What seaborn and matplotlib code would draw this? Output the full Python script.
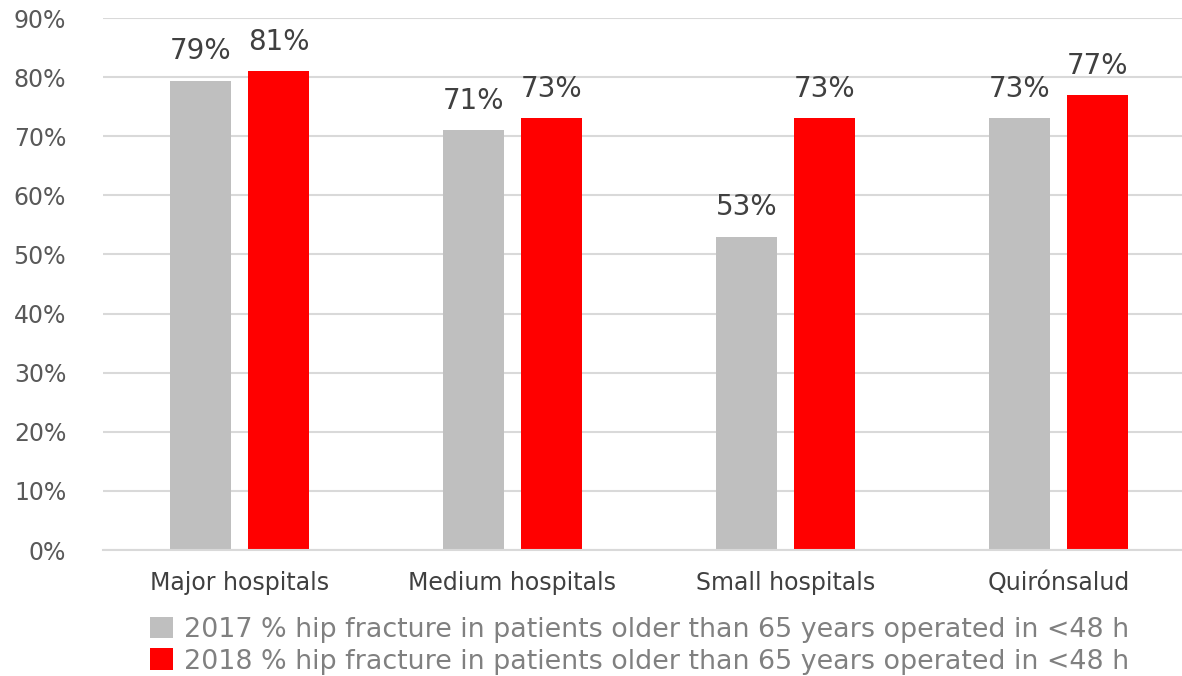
import numpy as np
import matplotlib
matplotlib.use("Agg")
import matplotlib.pyplot as plt
import pandas as pd
import seaborn as sns

categories = ["Major hospitals", "Medium hospitals", "Small hospitals", "Quirónsalud"]
vals_2017 = [79.4, 71, 53, 73]
vals_2018 = [81, 73, 73, 77]
series = ["2017 % hip fracture in patients older than 65 years operated in <48 h",
          "2018 % hip fracture in patients older than 65 years operated in <48 h"]
colors = ["#BFBFBF", "#FF0000"]

df = pd.DataFrame({
    "category": categories * 2,
    "value": vals_2017 + vals_2018,
    "series": [series[0]] * 4 + [series[1]] * 4,
})

sns.set_theme(style="white")
plt.rcParams['font.family'] = ['DejaVu Sans']

fig = plt.figure(figsize=(11.82, 6.76), dpi=100)
ax = fig.add_axes([103 / 1182, 1 - 550 / 676, 4 * 273 / 1182, (550 - 18) / 676])

sns.barplot(data=df, x="category", y="value", hue="series", palette=colors,
            width=0.571, gap=0.218, ax=ax, legend=True, saturation=1, linewidth=0)

# value labels above bars
for cont in ax.containers:
    ax.bar_label(cont, labels=[f"{v:.0f}%" for v in cont.datavalues],
                 padding=11, fontsize=20, color="#404040")

ax.set_ylim(0, 90)
ax.set_xlim(-0.5, 3.5)
ax.set_yticks(np.arange(0, 91, 10))
ax.set_yticklabels([f"{t}%" for t in range(0, 91, 10)], fontsize=17, color="#595959")
ax.tick_params(axis="x", labelsize=17, labelcolor="#404040", length=0, pad=15)
ax.tick_params(axis="y", length=0, pad=26.5)
ax.yaxis.grid(True, color="#D9D9D9", linewidth=1.5)
ax.set_axisbelow(True)
ax.set_xlabel("")
ax.set_ylabel("")
for s in ["top", "right", "left"]:
    ax.spines[s].set_visible(False)
ax.spines["bottom"].set_color("#D9D9D9")
ax.spines["bottom"].set_linewidth(1.5)

leg = ax.legend(loc="upper left", bbox_to_anchor=(150 / 1182, 1 - 617 / 676),
                bbox_transform=fig.transFigure, frameon=False, ncol=1,
                handlelength=0.85, handleheight=0.85, handletextpad=0.4,
                labelspacing=0.2, borderaxespad=0, borderpad=0,
                prop={"size": 19.4})
for t in leg.get_texts():
    t.set_color("#808080")

fig.savefig("out.png", dpi=100)
